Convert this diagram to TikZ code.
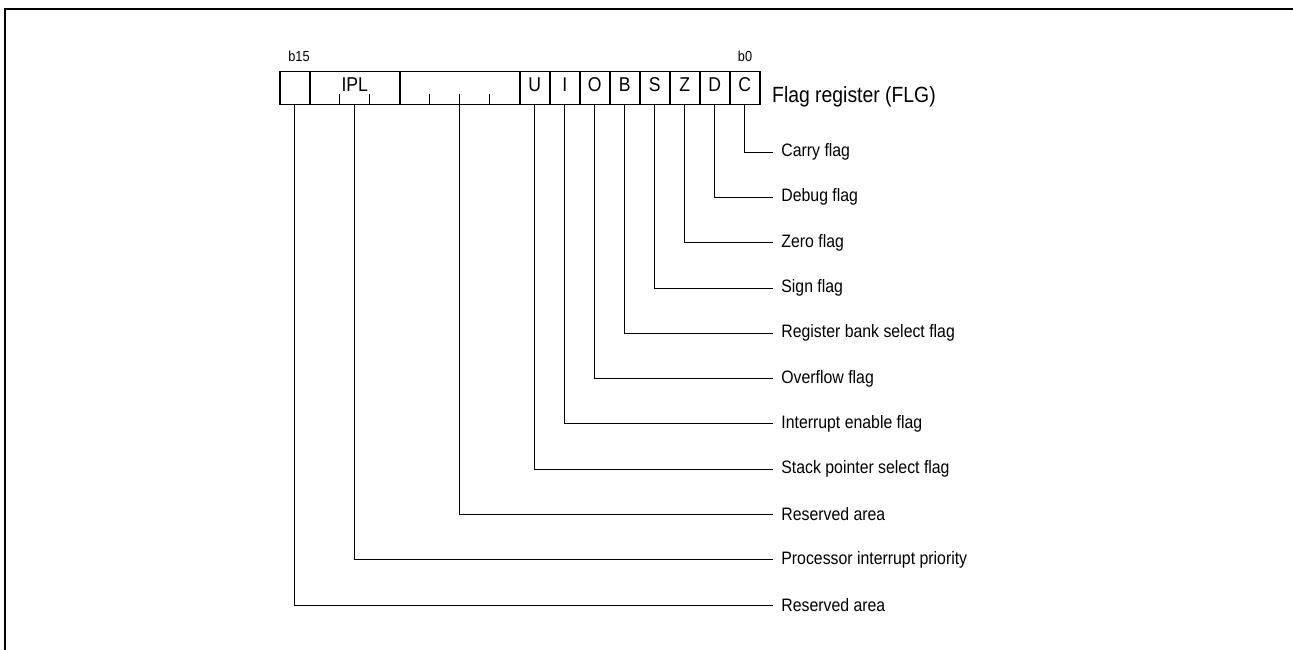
\documentclass[tikz,border=0pt]{standalone}
\usepackage{fontspec}
\setmainfont{Liberation Sans}[FakeStretch=0.88]
\begin{document}
\begin{tikzpicture}[x=1pt, y=-1pt,
    cell/.style={draw, line width=1.5pt, inner sep=0pt, minimum height=33pt, anchor=north west,
        text height=14.5pt, text depth=7pt, font=\fontsize{20}{22}\selectfont},
    bitno/.style={anchor=base, inner sep=0pt, font=\fontsize{14.5}{16}\selectfont},
    leader/.style={line width=0.8pt},
    flaglbl/.style={anchor=west, inner sep=0pt, xshift=8pt, font=\fontsize{18}{20}\selectfont}]
    \useasboundingbox (0,0) rectangle (1293,650);

    % Frame
    \draw[line width=2.5pt] (5,660) -- (5,9) -- (1300,9);

    % Register
    \node[cell, minimum width=30pt] (r15) at (279,71) {};
    \node[cell, minimum width=90pt] (IPL) at (309,71) {IPL};
    \node[cell, minimum width=120pt] (rsv) at (399,71) {};
    \foreach \nm [count=\i] in {U,I,O,B,S,Z,D,C} {
        \node[cell, minimum width=30pt] (\nm) at (489+30*\i,71) {\nm};
    }
    \foreach \x in {339,369,429,459,489} {
        \draw[line width=1pt] (\x,94) -- (\x,104);
    }

    % Bit numbers and title
    \node[bitno] (b15) at (299,62) {b15};
    \node[bitno] (b0) at (745,62) {b0};
    \node[anchor=base west, inner sep=0pt, font=\fontsize{22}{24}\selectfont] (flg) at (772,103) {Flag register (FLG)};

    % Leaders
    \foreach \nm/\lbl [count=\i from 0] in {C/Carry flag, D/Debug flag, Z/Zero flag, S/Sign flag,
        B/Register bank select flag, O/Overflow flag, I/Interrupt enable flag,
        U/Stack pointer select flag, rsv/Reserved area, IPL/Processor interrupt priority,
        r15/Reserved area} {
        \coordinate (e\nm) at (773,152+45.3*\i);
        \draw[leader] (\nm.south) |- (e\nm) node[flaglbl] (t\nm) {\lbl};
    }
\end{tikzpicture}
\end{document}
